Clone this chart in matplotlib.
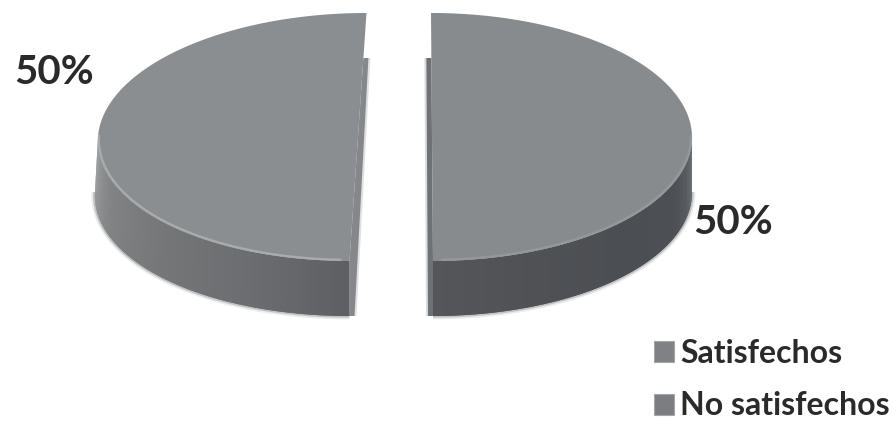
import numpy as np
import matplotlib
matplotlib.use('Agg')
import matplotlib.pyplot as plt
from matplotlib.patches import Patch

labels = ['No satisfechos', 'Satisfechos']
values = [50, 50]
legend_order = ['Satisfechos', 'No satisfechos']

# layout of the two pieces, in figure pixels
top_y = 137.0
bottom_y = 192.0
centers = {'No satisfechos': 358.0, 'Satisfechos': 432.0}
shears = {'No satisfechos': 8.5, 'Satisfechos': -1.0}
label_pos = {'No satisfechos': (54, 72), 'Satisfechos': (733, 222)}
rx = 260.0
ry = 124.0
side_grow = 3.0

top_colors = {'No satisfechos': '#8b8e90', 'Satisfechos': '#878b8e'}
rim_colors = {'No satisfechos': '#a9acad', 'Satisfechos': '#94989a'}
# side colours, from the cut round to the outer end of each piece
side_colors = {
    'No satisfechos': ['#5d5f62', '#6c6d70', '#757678', '#808284', '#999b9d'],
    'Satisfechos': ['#54565a', '#4f5155', '#4b4e52', '#4c4f54', '#63666a'],
}
cut_colors = {'No satisfechos': '#85878a', 'Satisfechos': '#6f7275'}
legend_colors = {'Satisfechos': '#7f8184', 'No satisfechos': '#7b7d81'}
text_color = '#2a2a2b'


def ellipse(name, t, cy, grow=0.0):
    x = centers[name] + (rx + grow) * np.cos(t) + shears[name] * np.sin(t)
    y = cy - ry * np.sin(t)
    return x, y


def shade(stops, u):
    rgb = np.array([matplotlib.colors.to_rgb(c) for c in stops])
    pos = np.linspace(0, 1, len(stops))
    return [np.interp(u, pos, rgb[:, i]) for i in range(3)]


def draw_piece(ax, name, start, end):
    t = np.radians(np.linspace(start, end, 240))
    left = name == 'No satisfechos'
    sign = 1 if left else -1
    grow = side_grow if left else 0

    # wall of the cut, seen behind the straight edge, with a soft outer border
    tx0, ty0 = ellipse(name, np.radians(90), top_y)
    tx1, ty1 = ellipse(name, np.radians(-90), top_y)
    wall_top = ty0 + 45
    wx = tx0 + (tx1 - tx0) * 45 / (ty1 - ty0)
    for w, alpha in [(7, 0.25), (5, 1.0)]:
        ax.fill([wx, wx + sign * w, tx1 + sign * w, tx1, tx1],
                [wall_top, wall_top, bottom_y + ry, bottom_y + ry, ty1],
                color=cut_colors[name], alpha=alpha, lw=0, zorder=1)

    # rounded outer wall, only the front half is visible
    if left:
        front = np.radians(np.linspace(-90, -180, 180))
    else:
        front = np.radians(np.linspace(-90, 0, 180))
    n = len(front) - 1
    # strips overlap a little so no seams show between them
    for i in range(n):
        a = front[i:i + 3]
        xt, yt = ellipse(name, a, top_y)
        xb, yb = ellipse(name, a, bottom_y, grow)
        ax.fill(np.r_[xt, xb[::-1]], np.r_[yt, yb[::-1]],
                color=shade(side_colors[name], i / n), lw=0, zorder=2)
    xb, yb = ellipse(name, front, bottom_y, grow)
    halo = [(5.0, 0.15), (2.6, 0.35)]
    for lw, alpha in halo:
        ax.plot(xb, yb, color='#77797b', lw=lw, alpha=alpha, zorder=1.5,
                solid_capstyle='butt')

    # flat upper face
    x, y = ellipse(name, t, top_y)
    ax.fill(x, y, color=top_colors[name], lw=0, zorder=3)

    # light rim on the front edge of the face
    xr, yr = ellipse(name, front[4:], top_y, -1.0)
    ax.plot(xr, yr - 1.2, color=rim_colors[name], lw=1.6, zorder=4,
            solid_capstyle='round')


def main():
    plt.rcParams['font.family'] = ['Lato', 'DejaVu Sans']
    fig = plt.figure(figsize=(8.96, 4.21), dpi=100)
    ax = fig.add_axes([0, 0, 1, 1])
    ax.set_xlim(0, 896)
    ax.set_ylim(421, 0)
    ax.axis('off')

    total = float(sum(values))
    start = 90.0
    for name, v in zip(labels, values):
        span = 360.0 * v / total
        draw_piece(ax, name, start, start + span)
        start += span
        lx, ly = label_pos[name]
        ax.text(lx, ly, '{:.0f}%'.format(100 * v / total), fontsize=29,
                fontweight='bold', color=text_color, ha='center', va='center')

    handles = [Patch(facecolor=legend_colors[n], edgecolor='#a4a6a8', lw=0.8, label=n)
               for n in legend_order]
    leg = ax.legend(handles=handles, loc='lower left', bbox_to_anchor=(644 / 896, -9 / 421),
                    frameon=False, fontsize=23, handlelength=0.63, handleheight=0.63,
                    handletextpad=0.2, labelspacing=0.74, borderpad=0.3, borderaxespad=0.0)
    for t in leg.get_texts():
        t.set_color(text_color)
        t.set_fontweight('bold')

    fig.savefig('out.png', dpi=100, facecolor='white')


if __name__ == '__main__':
    main()
